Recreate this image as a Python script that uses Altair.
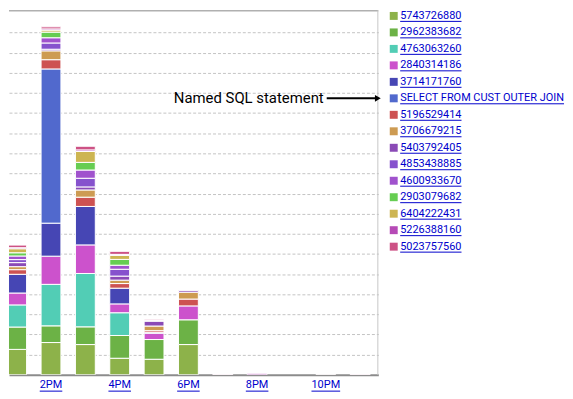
import altair as alt
import pandas as pd

# ---------------- data ----------------
hours = [13, 14, 15, 16, 17, 18, 19, 20, 21, 22, 23]
series = [
    "5743726880", "2962383682", "4763063260", "2840314186", "3714171760",
    "SELECT FROM CUST OUTER JOIN", "5196529414", "3706679215", "5403792405",
    "4853438885", "4600933670", "2903079682", "6404222431", "5226388160", "5023757560",
]
colors = [
    "#8db24a", "#6cb246", "#52cdb5", "#cc52cc", "#4646b4",
    "#5169cd", "#cd5252", "#cd9b52", "#8a4ab6",
    "#8652cd", "#a052cd", "#66cd52", "#cdb552", "#b64ab6", "#cd5285",
]
s_5743726880 = [1.26, 1.60, 1.50, 0.82, 0.77, 1.50, 0, 0, 0, 0, 0]
s_2962383682 = [1.11, 0.83, 0.88, 1.13, 0.98, 1.23, 0, 0, 0, 0, 0]
s_4763063260 = [1.10, 2.06, 2.65, 1.13, 0, 0, 0, 0, 0, 0, 0]
s_2840314186 = [0.59, 1.40, 1.42, 0.44, 0.31, 0.69, 0, 0.07, 0, 0, 0]
s_3714171760 = [0.93, 1.64, 1.91, 0.78, 0.05, 0, 0, 0, 0, 0, 0]
s_select = [0, 7.66, 0, 0, 0, 0, 0, 0, 0, 0, 0]
s_5196529414 = [0.23, 0.46, 0.46, 0.23, 0.08, 0.34, 0, 0, 0, 0, 0]
s_3706679215 = [0.15, 0.44, 0.36, 0.17, 0.23, 0.34, 0, 0, 0, 0, 0]
s_5403792405 = [0.20, 0.08, 0.15, 0.20, 0.25, 0.08, 0, 0, 0, 0, 0]
s_4853438885 = [0.15, 0.31, 0.43, 0.34, 0.01, 0, 0, 0, 0, 0, 0]
s_4600933670 = [0.18, 0.26, 0.41, 0.20, 0.01, 0, 0, 0, 0, 0, 0]
s_2903079682 = [0.16, 0.28, 0.38, 0.29, 0.01, 0, 0, 0, 0, 0, 0]
s_6404222431 = [0.20, 0.10, 0.54, 0.20, 0.01, 0, 0, 0, 0, 0, 0]
s_5226388160 = [0.05, 0.06, 0.08, 0.05, 0.01, 0, 0.02, 0, 0, 0, 0.02]
s_5023757560 = [0.13, 0.10, 0.18, 0.15, 0.04, 0, 0.02, 0, 0, 0.01, 0.02]
series_values = [
    s_5743726880, s_2962383682, s_4763063260, s_2840314186, s_3714171760,
    s_select, s_5196529414, s_3706679215, s_5403792405, s_4853438885,
    s_4600933670, s_2903079682, s_6404222431, s_5226388160, s_5023757560,
]
label_hours = [14, 16, 18, 20, 22]
hour_labels = ["2PM", "4PM", "6PM", "8PM", "10PM"]
annotation = "Named SQL statement"
annotated_series = "SELECT FROM CUST OUTER JOIN"

# ---------------- style / layout ----------------
LINK = "#0000cc"
FONT = "Roboto"
W, H = 372, 367
X_DOMAIN = [12.777, 23.529]
Y_DOMAIN = [0, 18.1]
PPH = W / (X_DOMAIN[1] - X_DOMAIN[0])

ROBOTO = {"0": .5615, " ": .2476, "S": .594, "E": .545, "L": .538, "C": .652,
          "T": .611, "F": .530, "R": .616, "O": .6875, "M": .873, "U": .647,
          "J": .552, "I": .272, "N": .697, "P": .631}


def text_w(s, size=11):
    return sum(ROBOTO.get(ch if not ch.isdigit() else "0", .56) for ch in s) * size


rows = []
for i, (name, vals) in enumerate(zip(series, series_values)):
    for h, v in zip(hours, vals):
        rows.append({"hour": h, "series": name, "idx": i, "value": v})
df = pd.DataFrame(rows)

color_scale = alt.Scale(domain=series, range=colors)
x_scale = alt.Scale(domain=X_DOMAIN, nice=False, zero=False, padding=0)
y_scale = alt.Scale(domain=Y_DOMAIN, nice=False, zero=True, padding=0)

bars = alt.Chart(df).transform_filter("datum.value > 0").mark_bar(
    size=20, stroke="white", strokeWidth=1, clip=True
).encode(
    x=alt.X("hour:Q", scale=x_scale,
            axis=alt.Axis(labels=False, ticks=False, grid=False, domain=True,
                          domainColor="#8c8c8c", domainWidth=2, title=None)),
    y=alt.Y("value:Q", stack="zero", scale=y_scale,
            axis=alt.Axis(values=list(range(1, 18)), grid=True, gridDash=[3, 2],
                          gridColor="#c4c4c4", labels=False, ticks=False,
                          domain=False, title=None)),
    color=alt.Color("series:N", scale=color_scale, legend=None),
    order=alt.Order("idx:Q", sort="ascending"),
)

one = pd.DataFrame({"a": [0]})
top_border = alt.Chart(one).mark_rule(color="#b0b0b0", strokeWidth=1.5).encode(
    x=alt.value(0), x2=alt.value(W), y=alt.value(0.5))
right_border = alt.Chart(one).mark_rule(color="#c8c8c8", strokeWidth=1).encode(
    x=alt.value(W - 0.5), y=alt.value(0), y2=alt.value(H))

lab_df = pd.DataFrame({"hour": label_hours, "label": hour_labels})
lab_df["w"] = [text_w(s) for s in hour_labels]
lab_df["u1"] = lab_df["hour"] - lab_df["w"] / 2 / PPH
lab_df["u2"] = lab_df["hour"] + lab_df["w"] / 2 / PPH

hour_text = alt.Chart(lab_df).mark_text(
    font=FONT, fontSize=11, color=LINK, align="center", baseline="middle"
).encode(x=alt.X("hour:Q", scale=x_scale), y=alt.value(H + 10), text="label:N")
hour_under = alt.Chart(lab_df).mark_rule(color=LINK, strokeWidth=1).encode(
    x=alt.X("u1:Q", scale=x_scale), x2="u2:Q", y=alt.value(H + 16.5))

main = alt.layer(bars, top_border, right_border, hour_text, hour_under).properties(
    width=W, height=H)

# ---------------- legend ----------------
LW, LH = 170, 249
STEP = 16.6
FIRST = 5.6
leg_df = pd.DataFrame({"series": series, "idx": list(range(len(series)))})
leg_df["u1"] = 11
leg_df["u2"] = [11 + text_w(s) for s in series]
ly_scale = alt.Scale(domain=[-FIRST / STEP, -FIRST / STEP + LH / STEP],
                     reverse=True, nice=False, zero=False)
ly = alt.Y("idx:Q", scale=ly_scale, axis=None)

swatch = alt.Chart(leg_df).mark_square(size=64, filled=True, opacity=1).encode(
    x=alt.value(4.5), y=ly,
    color=alt.Color("series:N", scale=color_scale, legend=None))
leg_text = alt.Chart(leg_df).mark_text(
    font=FONT, fontSize=11, color=LINK, align="left", baseline="middle"
).encode(x=alt.value(11), y=ly, text="series:N")
leg_under = alt.Chart(leg_df).mark_rule(color=LINK, strokeWidth=1, yOffset=5.5).encode(
    x=alt.X("u1:Q", scale=alt.Scale(domain=[0, LW], nice=False, zero=False), axis=None),
    x2="u2:Q", y=ly)

ann_df = leg_df[leg_df["series"] == annotated_series].assign(note=annotation)
ann_text = alt.Chart(ann_df).mark_text(
    font=FONT, fontSize=15, color="black", align="right", baseline="middle"
).encode(x=alt.value(-66), y=ly, text="note:N")
ann_line = alt.Chart(ann_df).mark_rule(color="black", strokeWidth=2).encode(
    x=alt.value(-63), x2=alt.value(-13), y=ly)
ann_head = alt.Chart(ann_df).mark_point(
    shape="triangle-right", filled=True, size=45, color="black", opacity=1
).encode(x=alt.value(-11.5), y=ly)

legend = alt.layer(swatch, leg_text, leg_under, ann_text, ann_line, ann_head).properties(
    width=LW, height=LH)

chart = alt.hconcat(main, legend, spacing=11, bounds="flush").properties(
    padding={"left": 0, "top": 0, "right": 0, "bottom": 0}
).configure_view(stroke=None)

chart.save("out.html", embed_options={"renderer": "svg", "actions": False})
